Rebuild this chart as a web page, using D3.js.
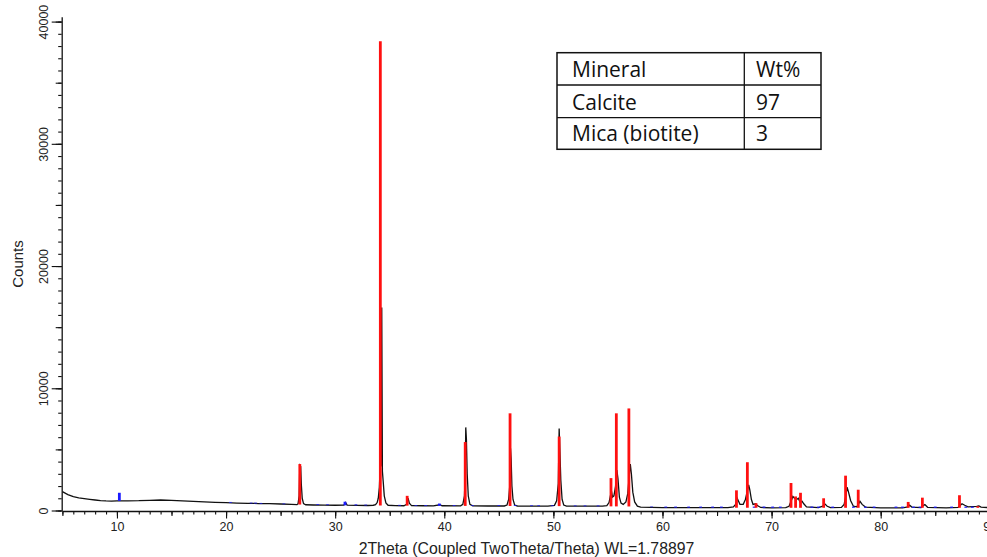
<!DOCTYPE html>
<html>
<head>
<meta charset="utf-8">
<script src="https://cdn.jsdelivr.net/npm/d3@7"></script>
<style>
  body { margin: 0; background: #fff; }
  .tick text { font-family: Arial, "Liberation Sans", sans-serif; fill: #222; }
  .tableText { font-family: "Open Sans", sans-serif; fill: #111; }
</style>
</head>
<body>
<div id="xrd"></div>
<script>
var measured = [
  [5, 1540], [5.5, 1300], [6, 1130], [6.5, 1040], [7, 970], [7.5, 910], [8, 860],
  [8.5, 810], [9, 780], [9.5, 770], [10, 780], [11, 790], [12, 800], [13, 830],
  [14, 860], [15, 830], [16, 780], [17, 740], [18, 700], [19, 670], [20, 640],
  [21, 610], [22, 590], [23, 570], [24, 560], [25, 530], [26, 500], [26.5, 480],
  [26.6, 560], [26.7, 1200], [26.76, 3700], [26.84, 3600], [26.9, 2100], [26.98, 1000],
  [27.1, 560], [27.3, 470], [28, 450], [29, 440], [30, 430], [30.8, 440], [30.95, 650],
  [31.1, 440], [32, 420], [33, 410], [33.5, 430], [33.7, 480], [33.85, 650], [33.95, 1000],
  [34.05, 1900], [34.12, 3500], [34.2, 3700], [34.27, 16600], [34.33, 3200], [34.4, 2400],
  [34.5, 1200], [34.65, 620], [34.85, 430], [35.5, 400], [36.3, 390], [36.55, 500],
  [36.68, 1000], [36.8, 600], [37, 400], [38, 390], [39, 380], [39.6, 470], [39.8, 390],
  [41.5, 380], [41.7, 500], [41.85, 1200], [41.92, 3000], [41.97, 6800], [42.03, 5800],
  [42.1, 3000], [42.2, 1200], [42.35, 500], [42.6, 380], [44, 370], [45.5, 370],
  [45.75, 450], [45.9, 900], [46.0, 2000], [46.07, 5100], [46.13, 4200], [46.2, 2000],
  [46.3, 900], [46.45, 450], [46.7, 370], [48, 360], [49.5, 360], [50.1, 420], [50.3, 800],
  [50.45, 2200], [50.53, 6700], [50.6, 4800], [50.68, 2500], [50.8, 900], [50.95, 450],
  [51.2, 360], [53, 350], [54.5, 350], [54.9, 400], [55.1, 650], [55.25, 1300],
  [55.32, 1600], [55.42, 1100], [55.55, 1200], [55.7, 2000], [55.82, 3300], [55.92, 2600],
  [56.05, 1100], [56.2, 600], [56.4, 500], [56.65, 700], [56.82, 1400], [56.95, 2800],
  [57.05, 3800], [57.15, 3000], [57.28, 1500], [57.45, 700], [57.7, 350], [58, 280],
  [60, 240], [62, 230], [64, 230], [66, 240], [66.5, 300], [66.7, 500], [66.85, 1000],
  [66.95, 800], [67.1, 500], [67.4, 500], [67.6, 900], [67.75, 1500], [67.9, 2100],
  [68.0, 1700], [68.15, 900], [68.3, 500], [68.55, 550], [68.7, 400], [69, 250], [70, 220],
  [71.3, 230], [71.6, 350], [71.8, 800], [71.95, 1150], [72.1, 1000], [72.3, 900],
  [72.45, 1000], [72.6, 700], [72.8, 750], [72.95, 550], [73.2, 300], [74.3, 230],
  [74.7, 350], [74.9, 520], [75.1, 350], [75.4, 230], [76.4, 250], [76.65, 500],
  [76.8, 1200], [76.92, 1900], [77.05, 1500], [77.25, 800], [77.5, 350], [77.8, 300],
  [77.95, 500], [78.1, 750], [78.3, 500], [78.6, 280], [80, 220], [82, 220], [82.5, 300],
  [82.65, 430], [82.85, 280], [83.7, 240], [83.9, 400], [84.05, 480], [84.3, 260], [86, 220],
  [87.1, 260], [87.3, 420], [87.45, 550], [87.7, 430], [88, 300], [88.8, 330], [89, 380],
  [89.2, 280], [90, 230]
];

// Background level under the sticks, [2Theta, counts]
var background = [
  [5, 1540], [6, 1130], [7, 970], [8, 860], [10, 780], [14, 860], [18, 700], [22, 590],
  [26, 500], [30, 430], [40, 380], [50, 360], [57, 330], [60, 240], [70, 220], [90, 220]
];

// Calcite reference sticks, [2Theta, counts]
var calcite = [
  [26.76, 3800], [34.14, 38400], [36.6, 1200], [41.92, 5600], [46.03, 7950],
  [50.53, 6050], [55.28, 2650], [55.77, 7950], [56.92, 8350], [66.78, 1650],
  [67.78, 3950], [68.57, 600], [71.78, 2250], [72.2, 1150], [72.65, 1450],
  [74.77, 1000], [76.78, 2850], [77.94, 1700], [82.52, 700], [83.82, 1050],
  [87.22, 1250], [88.9, 350]
];

// Mica (biotite) reference sticks, [2Theta, counts]
var mica = [
  [10.22, 1450], [20.4, 700], [22.3, 640], [22.7, 640], [23.2, 620], [25.3, 570],
  [28.4, 520], [29.3, 500], [30.9, 720], [31.9, 500], [32.8, 480], [35.9, 460],
  [37.4, 450], [38.3, 450], [39.55, 570], [40.9, 440], [42.6, 430], [45.0, 430],
  [46.5, 430], [48.0, 420], [48.65, 420], [49.9, 420], [52.0, 410], [52.9, 410],
  [54.1, 410], [59.0, 320], [60.3, 320], [61.2, 320], [62.4, 320], [63.5, 320],
  [64.6, 320], [65.4, 320], [68.4, 320], [69.3, 320], [70.1, 320], [70.8, 320],
  [73.7, 320], [74.3, 320], [75.6, 320], [77.5, 320], [78.6, 320], [79.4, 320],
  [81.4, 320], [82.0, 320], [83.0, 320], [83.6, 320], [85.0, 320], [86.5, 320],
  [87.8, 320], [88.4, 320]
];

// Tick values
var xLabelTicks = [10, 20, 30, 40, 50, 60, 70, 80, 90];
var yLabelTicks = [0, 10000, 20000, 30000, 40000];

// Quantification table
var tableHeader = ["Mineral", "Wt%"];
var minerals = ["Calcite", "Mica (biotite)"];
var weights = ["97", "3"];

var width = 987;
var height = 557;

var svg = d3
  .select("#xrd")
  .append("svg")
  .attr("width", width)
  .attr("height", height)
  .style("background", "#fff");

var xScale = d3.scaleLinear().domain([5, 90]).range([62.4, 989.8]);
var yScale = d3.scaleLinear().domain([0, 40400]).range([510.5, 16.7]);
var axisY = 511;

// Base of each stick sits on the background
var bgScale = d3
  .scaleLinear()
  .domain(background.map(function(d) { return d[0]; }))
  .range(background.map(function(d) { return d[1]; }));

// Plot clip so nothing runs past the frame
svg.append("clipPath").attr("id", "plotClip")
  .append("rect")
  .attr("x", 62).attr("y", 0)
  .attr("width", width - 62).attr("height", axisY);

var plot = svg.append("g").attr("clip-path", "url(#plotClip)");

// Measured curve
var line = d3
  .line()
  .x(function(d) { return xScale(d[0]); })
  .y(function(d) { return yScale(d[1]); });

plot
  .append("path")
  .datum(measured)
  .attr("d", line)
  .attr("fill", "none")
  .attr("stroke", "#111")
  .attr("stroke-width", 1.3);

// Mica sticks
plot
  .selectAll(".micaStick")
  .data(mica)
  .enter()
  .append("line")
  .attr("class", "micaStick")
  .attr("x1", function(d) { return xScale(d[0]); })
  .attr("x2", function(d) { return xScale(d[0]); })
  .attr("y1", function(d) { return yScale(bgScale(d[0])); })
  .attr("y2", function(d) { return yScale(d[1]); })
  .attr("stroke", "#1a1aff")
  .attr("stroke-width", 2.8);

// Calcite sticks
plot
  .selectAll(".calciteStick")
  .data(calcite)
  .enter()
  .append("line")
  .attr("class", "calciteStick")
  .attr("x1", function(d) { return xScale(d[0]); })
  .attr("x2", function(d) { return xScale(d[0]); })
  .attr("y1", function(d) { return yScale(bgScale(d[0])); })
  .attr("y2", function(d) { return yScale(d[1]); })
  .attr("stroke", "#ff1010")
  .attr("stroke-width", 2.8);

// X axis: minor, medium and labelled ticks
function xAxisLayer(values, size, labels) {
  var axis = d3
    .axisBottom(xScale)
    .tickValues(values)
    .tickSize(size)
    .tickSizeOuter(0)
    .tickFormat(labels ? d3.format("d") : "");
  var g = svg
    .append("g")
    .attr("transform", "translate(0," + axisY + ")")
    .call(axis);
  g.select(".domain").attr("stroke", labels ? "#111" : "none").attr("stroke-width", 1.3);
  g.selectAll(".tick line").attr("stroke", "#111").attr("stroke-width", 1.1);
  g.selectAll(".tick text").attr("y", 11).attr("font-size", 12.5);
  return g;
}
xAxisLayer(d3.range(5, 91, 1), 3.5, false);
xAxisLayer(d3.range(5, 91, 5), 5, false);
xAxisLayer(xLabelTicks, 7.5, true);

// Y axis: minor, medium and labelled ticks
function yAxisLayer(values, size, labels) {
  var axis = d3
    .axisLeft(yScale)
    .tickValues(values)
    .tickSize(size)
    .tickSizeOuter(0)
    .tickFormat(labels ? d3.format("d") : "");
  var g = svg
    .append("g")
    .attr("transform", "translate(61.7,0)")
    .call(axis);
  g.select(".domain").attr("stroke", labels ? "#111" : "none").attr("stroke-width", 1.3);
  g.selectAll(".tick line").attr("stroke", "#111").attr("stroke-width", 1.1);
  g.selectAll(".tick text")
    .attr("x", 0)
    .attr("y", -13.4)
    .attr("dy", null)
    .attr("text-anchor", "middle")
    .attr("transform", "rotate(-90)")
    .attr("font-size", 12.5);
  return g;
}
yAxisLayer(d3.range(0, 40001, 1000), 3.5, false);
yAxisLayer(d3.range(0, 40001, 5000), 6, false);
yAxisLayer(yLabelTicks, 10, true);

// Axis titles
svg
  .append("text")
  .attr("x", (62 + width) / 2 + 2)
  .attr("y", 554)
  .attr("text-anchor", "middle")
  .attr("font-family", "Arial, 'Liberation Sans', sans-serif")
  .attr("font-size", 15.8)
  .attr("fill", "#222")
  .text("2Theta (Coupled TwoTheta/Theta) WL=1.78897");

svg
  .append("text")
  .attr("transform", "translate(23,264)rotate(-90)")
  .attr("text-anchor", "middle")
  .attr("font-family", "Arial, 'Liberation Sans', sans-serif")
  .attr("font-size", 15)
  .attr("fill", "#222")
  .text("Counts");

// Table with phase amounts
var tableX = [557, 744.3, 821];
var rowY = [52.7, 85, 117.7, 149.3];
var table = svg.append("g").attr("class", "phaseTable");

table
  .append("rect")
  .attr("x", tableX[0])
  .attr("y", rowY[0])
  .attr("width", tableX[2] - tableX[0])
  .attr("height", rowY[3] - rowY[0])
  .attr("fill", "#fff")
  .attr("stroke", "#111")
  .attr("stroke-width", 1.5);

table
  .append("line")
  .attr("x1", tableX[1]).attr("x2", tableX[1])
  .attr("y1", rowY[0]).attr("y2", rowY[3])
  .attr("stroke", "#111").attr("stroke-width", 1.3);

[rowY[1], rowY[2]].forEach(function(y) {
  table
    .append("line")
    .attr("x1", tableX[0]).attr("x2", tableX[2])
    .attr("y1", y).attr("y2", y)
    .attr("stroke", "#111").attr("stroke-width", 1.3);
});

var rows = [tableHeader].concat(minerals.map(function(m, i) { return [m, weights[i]]; }));
rows.forEach(function(r, i) {
  var base = rowY[i + 1] - 8;
  table.append("text")
    .attr("class", "tableText")
    .attr("x", 572).attr("y", base)
    .attr("font-size", 21)
    .text(r[0]);
  table.append("text")
    .attr("class", "tableText")
    .attr("x", 756).attr("y", base)
    .attr("font-size", 21)
    .text(r[1]);
});
</script>
</body>
</html>
